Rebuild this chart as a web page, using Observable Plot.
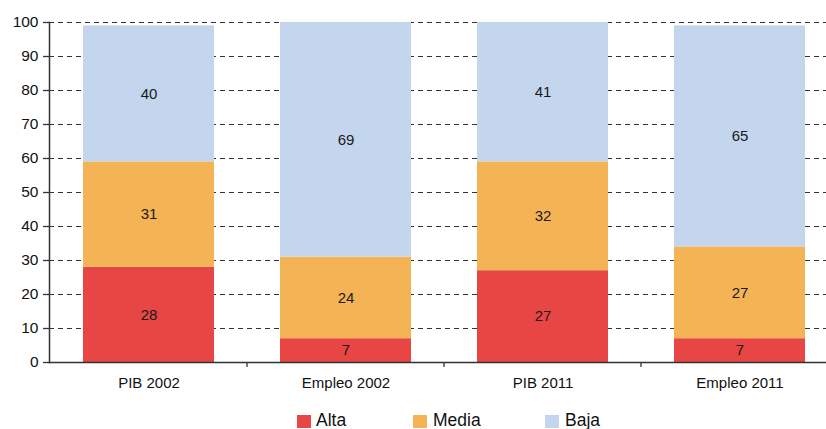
<!DOCTYPE html>
<html>
<head>
<meta charset="utf-8">
<script src="https://cdn.jsdelivr.net/npm/d3@7"></script>
<script src="https://cdn.jsdelivr.net/npm/@observablehq/plot@0.6"></script>
<style>
  body { margin: 0; background: #fff; font-family: "Liberation Sans", Arial, sans-serif; }
  #wrap { position: relative; width: 826px; height: 429px; overflow: hidden; }
  .sw { position: absolute; top: 415px; width: 14px; height: 13px; }
  .lt { position: absolute; top: 411px; font-size: 17.5px; line-height: 18px; color: #111; }
</style>
</head>
<body>
<div id="wrap"></div>
<script>
const categories = ["PIB 2002", "Empleo 2002", "PIB 2011", "Empleo 2011"];
const levels = ["Alta", "Media", "Baja"];
const colors = ["#e84545", "#f4b455", "#c3d6ee"];
const alta = [28, 7, 27, 7];
const media = [31, 24, 32, 27];
const baja = [40, 69, 41, 65];
const yTicks = [0, 10, 20, 30, 40, 50, 60, 70, 80, 90, 100];

const series = [alta, media, baja];
const data = [];
categories.forEach((c, i) => {
  levels.forEach((l, j) => data.push({cat: c, level: l, value: series[j][i]}));
});

const W = 826, H = 400;
const chart = Plot.plot({
  width: W,
  height: H,
  marginLeft: 49,
  marginRight: 0,
  marginTop: 22,
  marginBottom: 38,
  style: {fontFamily: "'Liberation Sans', Arial, sans-serif", fontSize: "15px", color: "#111", background: "#fff"},
  x: {domain: categories, range: [49, 838], paddingInner: 0.336, paddingOuter: 0.168, label: null},
  y: {domain: [0, 100], label: null},
  color: {domain: levels, range: colors},
  marks: [
    Plot.gridY(yTicks.filter(d => d > 0), {stroke: "#333", strokeOpacity: 1, strokeWidth: 1.2, strokeDasharray: "5,4"}),
    Plot.barY(data, Plot.stackY({x: "cat", y: "value", fill: "level", order: null})),
    Plot.text(data, Plot.stackY({x: "cat", y: "value", text: d => String(d.value), order: null, fill: "#1a1a1a", fontSize: 15})),
    Plot.axisY(yTicks, {tickSize: 6, tickPadding: 5, stroke: "#333", strokeWidth: 1.3, fontSize: 15.5, fill: "#111", label: null}),
    Plot.axisX({tickSize: 0, tickPadding: 15, fontSize: 15, fill: "#111", label: null}),
    Plot.frame({anchor: "left", stroke: "#333", strokeWidth: 1.5}),
    Plot.frame({anchor: "bottom", stroke: "#333", strokeWidth: 1.5})
  ]
});

// Category boundary ticks on x axis, computed from Plot's band scale
const xs = chart.scale("x");
const gap = xs.step - xs.bandwidth;
const svg = d3.select(chart);
categories.slice(1).forEach(c => {
  const bx = xs.apply(c) - gap / 2;
  svg.append("line")
    .attr("x1", bx).attr("x2", bx)
    .attr("y1", H - 38).attr("y2", H - 38 + 5)
    .attr("stroke", "#333").attr("stroke-width", 1.3);
});

const wrap = document.getElementById("wrap");
wrap.appendChild(chart);

// Legend
const legendPos = [[297, 316], [413, 433], [545, 565]];
levels.forEach((l, i) => {
  const sw = document.createElement("div");
  sw.className = "sw";
  sw.style.left = legendPos[i][0] + "px";
  sw.style.background = colors[i];
  wrap.appendChild(sw);
  const t = document.createElement("div");
  t.className = "lt";
  t.style.left = legendPos[i][1] + "px";
  t.textContent = l;
  wrap.appendChild(t);
});
</script>
</body>
</html>
